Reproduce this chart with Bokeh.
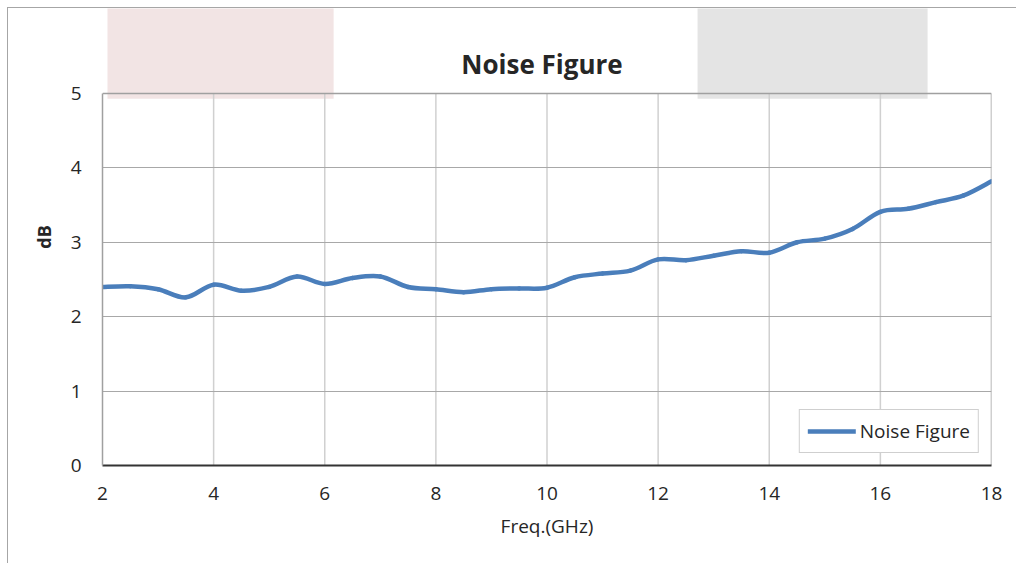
from bokeh.plotting import figure
from bokeh.embed import file_html
from bokeh.resources import INLINE
from bokeh.models import (Label, FixedTicker, Range1d, Legend, LegendItem, ColumnDataSource)
import numpy as np

freq_ghz = [2, 2.5, 3, 3.5, 4, 4.5, 5, 5.5, 6, 6.5, 7, 7.5, 8, 8.5, 9, 9.5, 10,
            10.5, 11, 11.5, 12, 12.5, 13, 13.5, 14, 14.5, 15, 15.5, 16, 16.5, 17, 17.5, 18]
noise_figure_db = [2.40, 2.41, 2.37, 2.26, 2.43, 2.35, 2.40, 2.54, 2.44, 2.52, 2.54, 2.40,
                   2.37, 2.33, 2.37, 2.38, 2.39, 2.53, 2.58, 2.62, 2.77, 2.76, 2.82, 2.88,
                   2.86, 3.00, 3.05, 3.18, 3.41, 3.45, 3.54, 3.63, 3.82]
x_ticks = [2, 4, 6, 8, 10, 12, 14, 16, 18]
y_ticks = [0, 1, 2, 3, 4, 5]

FONT = "Open Sans"
BLUE = "#4a7ebb"
GRID_V = "#d0d0d0"
GRID_H = "#a8a8a8"
FRAME = "#a0a0a0"

X_MIN, X_MAX = 2, 18
Y_MIN, Y_MAX = 0, 5
Y_TOP = 6.1425  # frame reaches up to the canvas top

p = figure(width=1008, height=555, output_backend="svg", toolbar_location=None,
           x_range=Range1d(X_MIN, X_MAX), y_range=Range1d(Y_MIN, Y_TOP),
           frame_width=889, frame_height=457,
           min_border_left=94, min_border_right=25, min_border_top=0, min_border_bottom=98)
p.styles = {"border-left": "1px solid #a6a6a6", "border-top": "1px solid #a6a6a6",
            "margin-left": "7px", "margin-top": "7px"}
p.background_fill_color = "white"
p.border_fill_color = "white"
p.outline_line_color = None

# decorative shaded boxes at the top
p.quad(left=[2.09], right=[6.16], bottom=[4.93], top=[6.3],
       fill_color="#f2e4e4", line_color=None, level="image")
p.quad(left=[12.71], right=[16.85], bottom=[4.93], top=[6.3],
       fill_color="#e4e4e4", line_color=None, level="image")

# axes
p.xaxis.ticker = FixedTicker(ticks=x_ticks)
p.yaxis.ticker = FixedTicker(ticks=y_ticks)
p.yaxis.bounds = (Y_MIN, Y_MAX)
for ax in (p.xaxis[0], p.yaxis[0]):
    ax.major_tick_line_color = None
    ax.minor_tick_line_color = None
    ax.major_label_text_font = FONT
    ax.major_label_text_font_size = "19px"
    ax.major_label_text_color = "#262626"
    ax.axis_label_text_color = "#262626"
    ax.axis_label_text_font = FONT
p.xaxis.axis_line_color = "#333333"
p.xaxis.axis_line_width = 2
p.yaxis.axis_line_color = FRAME
p.yaxis.axis_line_width = 1.5
p.xaxis.major_label_standoff = 15
p.yaxis.major_label_standoff = 15
p.xaxis.axis_label = "Freq.(GHz)"
p.xaxis.axis_label_text_font_size = "19px"
p.xaxis.axis_label_text_font_style = "normal"
p.xaxis.axis_label_standoff = 10
p.yaxis.axis_label = "dB"
p.yaxis.axis_label_text_font_size = "18px"
p.yaxis.axis_label_text_font_style = "bold"
p.yaxis.axis_label_standoff = 12

# grid: horizontal lines across the plot, vertical lines only up to the frame top
p.xgrid.visible = False
p.ygrid.ticker = FixedTicker(ticks=[t for t in y_ticks if 0 < t < Y_MAX])
p.ygrid.grid_line_color = GRID_H
p.ygrid.grid_line_width = 1.2
inner_x = [t for t in x_ticks if X_MIN < t < X_MAX]
p.segment(x0=inner_x, y0=[Y_MIN] * len(inner_x), x1=inner_x, y1=[Y_MAX] * len(inner_x),
          line_color=GRID_V, line_width=1.5, level="underlay")
# frame top and right edges
p.segment(x0=[X_MIN, X_MAX], y0=[Y_MAX, Y_MIN], x1=[X_MAX, X_MAX], y1=[Y_MAX, Y_MAX],
          line_color=FRAME, line_width=1.5, level="underlay")

# smoothed line through the data (Bezier segments, Catmull-Rom style)
x = np.array(freq_ghz, dtype=float)
y = np.array(noise_figure_db, dtype=float)
xp = np.concatenate([[x[0]], x, [x[-1]]])
yp = np.concatenate([[y[0]], y, [y[-1]]])
n = len(x)
src = ColumnDataSource(dict(
    x0=x[:-1], y0=y[:-1], x1=x[1:], y1=y[1:],
    cx0=x[:-1] + (xp[2:n + 1] - xp[0:n - 1]) / 6.0,
    cy0=y[:-1] + (yp[2:n + 1] - yp[0:n - 1]) / 6.0,
    cx1=x[1:] - (xp[3:n + 2] - xp[1:n]) / 6.0,
    cy1=y[1:] - (yp[3:n + 2] - yp[1:n]) / 6.0,
))
bz = p.bezier(x0="x0", y0="y0", x1="x1", y1="y1", cx0="cx0", cy0="cy0", cx1="cx1", cy1="cy1",
              source=src, line_color=BLUE, line_width=4.5, line_cap="round")

legend = Legend(items=[LegendItem(label="Noise Figure", renderers=[bz])],
                location="bottom_right")
legend.label_text_font = FONT
legend.label_text_font_size = "19px"
legend.label_text_color = "#262626"
legend.border_line_color = FRAME
legend.border_line_width = 1.5
legend.glyph_width = 48
legend.glyph_height = 20
legend.label_height = 20
legend.label_standoff = 4
legend.padding = 8
legend.margin = 12
legend.background_fill_alpha = 1.0
p.add_layout(legend)

p.add_layout(Label(x=9.91, y=5.39, text="Noise Figure", text_align="center",
                   text_baseline="middle", text_font=FONT, text_font_style="bold",
                   text_font_size="26px", text_color="#262626"))

open("out.html", "w").write(file_html(p, INLINE))
